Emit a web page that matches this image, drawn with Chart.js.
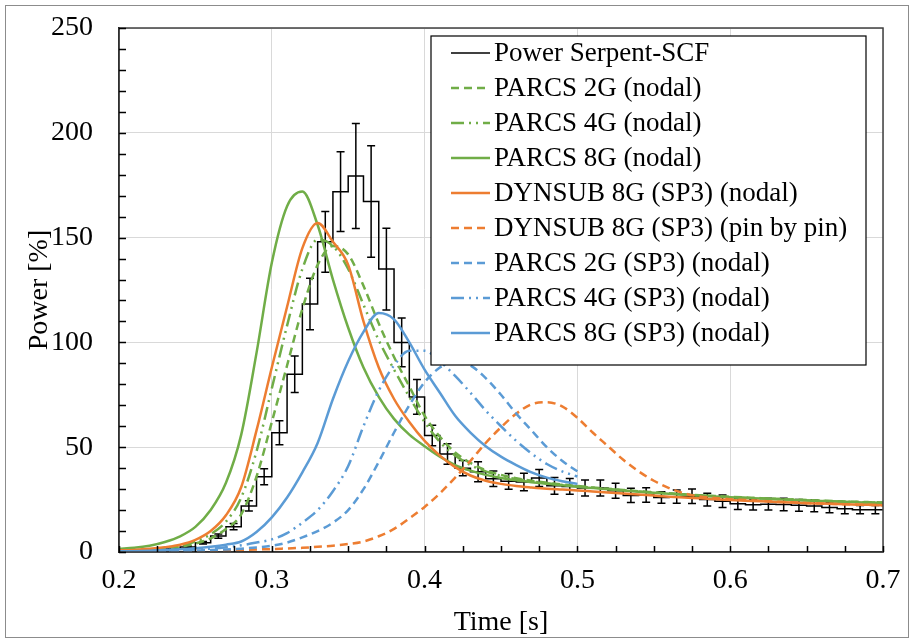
<!DOCTYPE html>
<html>
<head>
<meta charset="utf-8">
<script src="https://cdn.jsdelivr.net/npm/chart.js@4.4.1/dist/chart.umd.min.js"></script>
<style>
body { margin: 0; background: #fff; }
#wrap { position: relative; width: 914px; height: 642px; }
#frame { position: absolute; left: 5px; top: 5px; width: 902px; height: 631px; border: 1px solid #8c8c8c; pointer-events: none; }
</style>
</head>
<body>
<div id="wrap"><canvas id="myChart" width="914" height="642"></canvas><div id="frame"></div></div>
<script>
//time grid (s) for the simulated curves, also the histogram bin edges
const tGrid = [0.20,0.21,0.22,0.23,0.24,0.25,0.26,0.27,0.28,0.29,
	0.30,0.31,0.32,0.33,0.34,0.35,0.36,0.37,0.38,0.39,
	0.40,0.41,0.42,0.43,0.44,0.45,0.46,0.47,0.48,0.49,
	0.50,0.51,0.52,0.53,0.54,0.55,0.56,0.57,0.58,0.59,
	0.60,0.61,0.62,0.63,0.64,0.65,0.66,0.67,0.68,0.69,0.70];
//blue SP3 curves stop at 0.5 s
const tBlue = tGrid.slice(0, 31);

//Serpent-SCF power per 0.01 s bin, and its error
const serpentPower = [0.5,0.6,0.9,1.4,2.4,4.4,7.6,12.1,22,35.9,
	56.9,84.8,118.3,148,171.9,179.4,167.2,135,100,74,
	55.6,46.8,40,38.3,35,33.7,33.4,35.3,31.6,31.3,
	30.5,30.5,29.2,27,27.2,26,26.4,26.6,25,24.2,
	23,22.6,22.8,22.7,22.3,22,21.2,20.6,20.2,20.2];
const serpentErr = [0.1,0.1,0.2,0.3,0.5,0.6,1,1.5,2.4,3.8,
	5.7,8.7,12.3,14.5,19,25,26.6,19.5,11.6,8.3,
	4.9,4.9,3.6,4.8,3.7,3.8,4.2,4.1,4,3.8,
	3.8,3.8,3.6,3.4,3.5,2.8,3.2,3.5,3,3,
	2.7,2.6,2.8,3,2.8,2.8,2.5,2.3,2,2];

const parcs2Nodal = [0.5,0.7,1,1.6,2.5,4,6.5,11,18,36,
	62,89,116,137,146,142,127,109,93,79,
	65,55,47.5,42.5,39,36.8,35.2,34,33,32.2,
	31.5,30.8,30.2,29.6,29,28.5,28,27.5,27.1,26.7,
	26.3,26,25.7,25.4,25.1,24.8,24.5,24.2,24,23.8,23.6];
const parcs4Nodal = [0.6,0.8,1.2,2,3,5,8.5,14.5,26,48,
	78,108,135,149,146,135,118,101,87,74,
	62,52.5,46,41.5,38.5,36.3,34.8,33.7,32.8,32,
	31.3,30.7,30.1,29.5,28.9,28.4,27.9,27.4,27,26.6,
	26.2,25.9,25.6,25.3,25,24.7,24.4,24.1,23.9,23.7,23.5];
const parcs8Nodal = [1.5,2,3,4.8,7.5,12,20,33,56,95,
	138,165,172,156,130,107,88,74,63.5,56,
	50.5,45.5,41.5,38.8,36.8,35.3,34.2,33.3,32.5,31.8,
	31.1,30.5,29.9,29.3,28.8,28.3,27.8,27.3,26.9,26.5,
	26.1,25.8,25.5,25.2,24.9,24.6,24.3,24.1,23.8,23.6,23.4];
const dynsubNodal = [0.8,1,1.5,2.3,3.5,5.8,10,17.5,31,58,
	88,117,145,157,148,137,110,88,73,62,
	53,46,40.5,36.5,34,32.5,31.5,30.8,30.2,29.8,
	29.4,28.9,28.4,27.9,27.4,26.9,26.4,26,25.6,25.2,
	24.8,24.5,24.2,23.9,23.6,23.3,23.1,22.9,22.7,22.5,22.3];
const dynsubPin = [0,0.1,0.2,0.3,0.4,0.5,0.6,0.8,1,1.2,
	1.4,1.7,2,2.5,3,3.8,5,7.5,11,16,
	21.5,28,35.5,43.5,52,59.5,66,70.5,71.5,69.5,
	64,57,50.5,44,38.5,34,30.5,28,26.5,25.8,
	25.2,24.8,24.4,24,23.7,23.4,23.1,22.9,22.7,22.5,22.3];
const parcs2Sp3 = [0.1,0.2,0.3,0.4,0.5,0.7,0.9,1.2,1.6,2.2,
	3,4.5,7,10,14,20,30,43,57,70,
	81,88,91,89,83,75,66,58,50,43.5,38.5];
const parcs4Sp3 = [0.2,0.3,0.4,0.6,0.8,1.2,1.6,2.3,3.2,4.5,
	6,9,14,20,29,41,60,77,89,96,
	96,91,84,76,67.5,60,53,47,42,38.5,36];
const parcs8Sp3 = [0.3,0.4,0.6,0.9,1.3,1.8,2.5,3.5,5,9.5,
	16.5,26,38,52,73,91,105,114,111,100,
	87,76,65,57,50.5,45.5,41.5,38,35.5,33.8,32.5];

const GREEN = '#70ad47', ORANGE = '#ed7d31', BLUE = '#5b9bd5';
const DASH = [8, 5];
const DASH_DOT = [13, 5, 2, 5, 2, 5];

//turn a time list and a value list into {x,y} points
var toPoints = function(times, vals) {
	return vals.map(function(v, i) { return {x: times[i], y: v}; });
}

//histogram as step line: bin i runs from edge i to edge i+1
var histPoints = function() {
	var pts = [{x: tGrid[0], y: serpentPower[0]}];
	for (var i = 0; i < serpentPower.length; i++) {
		pts.push({x: tGrid[i + 1], y: serpentPower[i]});
	}
	return pts;
}

var curve = function(label, times, vals, color, dash, ord) {
	return {
		label: label,
		data: toPoints(times, vals),
		borderColor: color,
		borderDash: dash,
		borderWidth: 2.5,
		pointRadius: 0,
		fill: false,
		cubicInterpolationMode: 'monotone',
		order: ord
	};
}

//error bars for the Serpent histogram, drawn under the curves
const errorBars = {
	id: 'errorBars',
	beforeDatasetsDraw: function(chart) {
		var ctx = chart.ctx, xs = chart.scales.x, ys = chart.scales.y;
		ctx.save();
		ctx.strokeStyle = '#000';
		ctx.lineWidth = 1.5;
		for (var i = 0; i < serpentPower.length; i++) {
			var px = xs.getPixelForValue((tGrid[i] + tGrid[i + 1]) / 2);
			var top = ys.getPixelForValue(serpentPower[i] + serpentErr[i]);
			var bot = ys.getPixelForValue(serpentPower[i] - serpentErr[i]);
			ctx.beginPath();
			ctx.moveTo(px, top); ctx.lineTo(px, bot);
			ctx.moveTo(px - 4, top); ctx.lineTo(px + 4, top);
			ctx.moveTo(px - 4, bot); ctx.lineTo(px + 4, bot);
			ctx.stroke();
		}
		ctx.restore();
	}
};

//plot frame, inward minor ticks and the boxed legend
const decorations = {
	id: 'decorations',
	afterDraw: function(chart) {
		var ctx = chart.ctx, a = chart.chartArea;
		var xs = chart.scales.x, ys = chart.scales.y;
		ctx.save();
		ctx.strokeStyle = '#404040';
		ctx.lineWidth = 1.5;
		ctx.strokeRect(a.left, a.top, a.right - a.left, a.bottom - a.top);
		ctx.strokeStyle = '#000';
		ctx.lineWidth = 1.5;
		ctx.beginPath();
		for (var v = 0; v <= 250; v += 10) {
			var py = Math.round(ys.getPixelForValue(v)) + 0.5;
			ctx.moveTo(a.left, py); ctx.lineTo(a.left + 7, py);
		}
		for (var k = 0; k <= 20; k++) {
			var px = Math.round(xs.getPixelForValue(0.2 + k * 0.025)) + 0.5;
			ctx.moveTo(px, a.bottom); ctx.lineTo(px, a.bottom - 6);
		}
		ctx.stroke();

		//legend box
		var bx = a.left + 312, by = a.top + 8, bw = 435, rowH = 35;
		var sets = chart.data.datasets;
		var bh = 16 + rowH * sets.length - 2;
		ctx.fillStyle = '#fff';
		ctx.fillRect(bx, by, bw, bh);
		ctx.strokeStyle = '#000';
		ctx.lineWidth = 1.2;
		ctx.strokeRect(bx, by, bw, bh);
		ctx.font = "27px 'Liberation Serif', 'Times New Roman', serif";
		ctx.textBaseline = 'middle';
		ctx.fillStyle = '#000';
		for (var i = 0; i < sets.length; i++) {
			var cy = by + 17 + i * rowH;
			ctx.beginPath();
			ctx.strokeStyle = sets[i].borderColor;
			ctx.lineWidth = sets[i].borderWidth;
			ctx.setLineDash(sets[i].borderDash || []);
			ctx.moveTo(bx + 20, cy); ctx.lineTo(bx + 59, cy);
			ctx.stroke();
			ctx.setLineDash([]);
			ctx.fillText(sets[i].label, bx + 63, cy + 1);
		}
		ctx.restore();
	}
};

Chart.defaults.font.family = "'Liberation Serif', 'Times New Roman', serif";
Chart.defaults.color = '#000';

var ctx = document.getElementById('myChart');
var myChart = new Chart(ctx, {
	type: 'line',
	data: {
		datasets: [
			{
				label: 'Power Serpent-SCF',
				data: histPoints(),
				borderColor: '#000',
				borderWidth: 1.5,
				pointRadius: 0,
				fill: false,
				stepped: 'after',
				order: 10
			},
			curve('PARCS 2G (nodal)', tGrid, parcs2Nodal, GREEN, DASH, 8),
			curve('PARCS 4G (nodal)', tGrid, parcs4Nodal, GREEN, DASH_DOT, 7),
			curve('PARCS 8G (nodal)', tGrid, parcs8Nodal, GREEN, [], 6),
			curve('DYNSUB 8G (SP3) (nodal)', tGrid, dynsubNodal, ORANGE, [], 5),
			curve('DYNSUB 8G (SP3) (pin by pin)', tGrid, dynsubPin, ORANGE, DASH, 4),
			curve('PARCS 2G (SP3) (nodal)', tBlue, parcs2Sp3, BLUE, DASH, 3),
			curve('PARCS 4G (SP3) (nodal)', tBlue, parcs4Sp3, BLUE, DASH_DOT, 2),
			curve('PARCS 8G (SP3) (nodal)', tBlue, parcs8Sp3, BLUE, [], 1)
		]
	},
	options: {
		responsive: false,
		animation: false,
		devicePixelRatio: 1,
		layout: { padding: { left: 0, top: 28, right: 31, bottom: 0 } },
		plugins: {
			legend: { display: false },
			tooltip: { enabled: false }
		},
		scales: {
			x: {
				type: 'linear',
				min: 0.2,
				max: 0.7,
				ticks: {
					stepSize: 0.1,
					padding: 12,
					font: { size: 28 },
					callback: function(v) { return Number(v).toFixed(1); }
				},
				grid: { color: '#d9d9d9', drawTicks: false },
				border: { color: '#000', width: 1.5 },
				title: { display: true, text: 'Time [s]', font: { size: 28 }, padding: { top: 0, bottom: 3 } },
				afterFit: function(s) { s.height = 90; }
			},
			y: {
				min: 0,
				max: 250,
				ticks: { stepSize: 50, padding: 26, font: { size: 28 } },
				grid: { color: '#d9d9d9', drawTicks: false },
				border: { color: '#000', width: 1.5 },
				title: { display: true, text: 'Power [%]', font: { size: 28 }, padding: { top: 23, bottom: 0 } },
				//fixed axis width; drop the label padding so the plot top sits at the layout padding
				afterFit: function(s) { s.width = 119; s.paddingTop = 0; s.paddingBottom = 0; }
			}
		}
	},
	plugins: [errorBars, decorations]
});
</script>
</body>
</html>
